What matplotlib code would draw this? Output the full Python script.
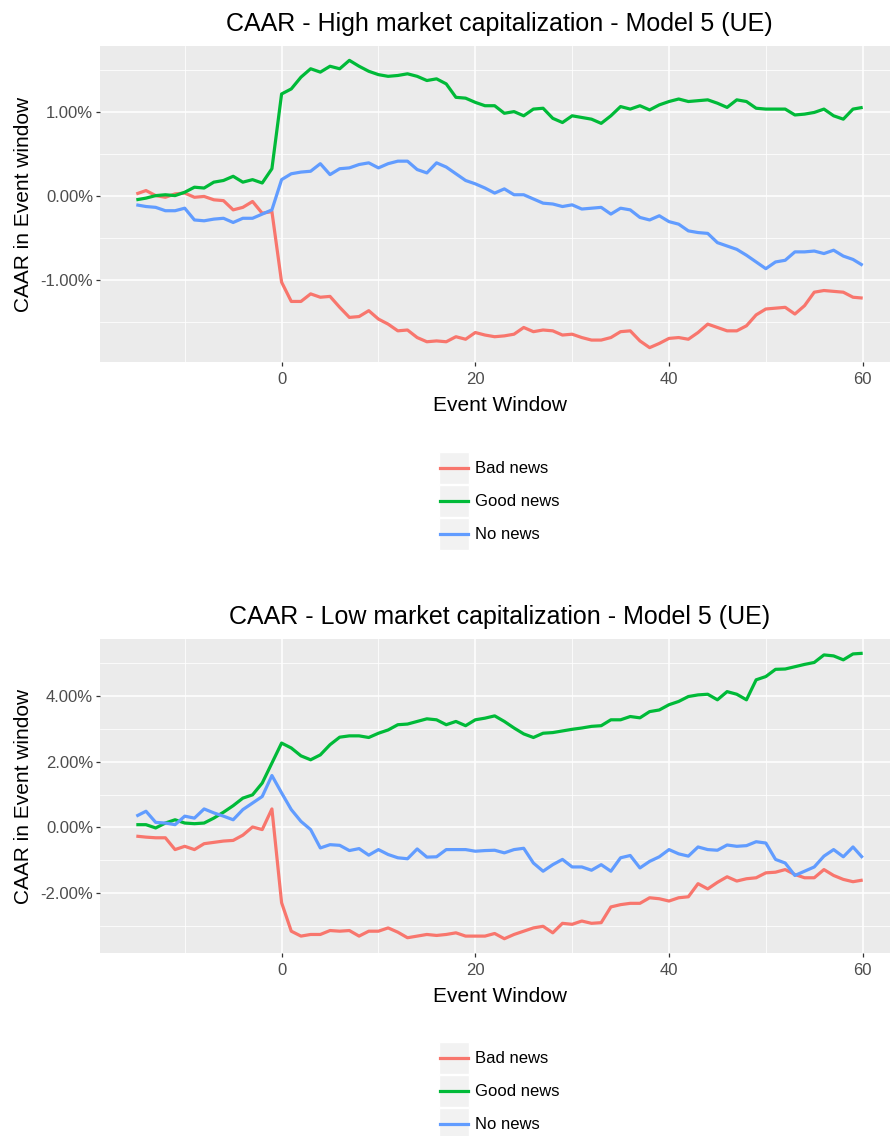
import matplotlib
matplotlib.use("Agg")
import matplotlib.pyplot as plt
from matplotlib.patches import Rectangle
from matplotlib.lines import Line2D
from matplotlib.legend_handler import HandlerBase
from matplotlib.ticker import MultipleLocator, FuncFormatter

plt.rcParams["font.family"] = ["Liberation Sans", "DejaVu Sans"]

# event window days
days = list(range(-15, 61))

series_names = ["Bad news", "Good news", "No news"]
colors = ["#F8766D", "#00BA38", "#619CFF"]

# high market capitalization (CAAR in %)
high_bad = [0.03, 0.07, 0.01, -0.01, 0.03, 0.04, -0.01, 0.00, -0.04, -0.05,
            -0.16, -0.13, -0.06, -0.20, -0.18, -1.02, -1.25, -1.25, -1.16, -1.20,
            -1.19, -1.32, -1.44, -1.43, -1.36, -1.46, -1.52, -1.60, -1.59, -1.68,
            -1.73, -1.72, -1.73, -1.67, -1.70, -1.62,
            -1.65, -1.67, -1.66, -1.64, -1.56, -1.61, -1.59, -1.60, -1.65, -1.64,
            -1.68, -1.71, -1.71, -1.68, -1.61, -1.60, -1.72, -1.80, -1.75, -1.69,
            -1.68, -1.70, -1.62, -1.52, -1.56, -1.60, -1.60, -1.54, -1.41, -1.34,
            -1.33, -1.32, -1.40, -1.30, -1.14, -1.12, -1.13, -1.14, -1.20, -1.21]
high_good = [-0.04, -0.02, 0.01, 0.02, 0.01, 0.05, 0.11, 0.10, 0.17, 0.19,
             0.24, 0.17, 0.20, 0.16, 0.33, 1.22, 1.28, 1.42, 1.52, 1.48,
             1.55, 1.52, 1.62, 1.55, 1.49, 1.45, 1.43, 1.44, 1.46, 1.43,
             1.38, 1.40, 1.34, 1.18, 1.17, 1.12,
             1.08, 1.08, 0.99, 1.01, 0.96, 1.04, 1.05, 0.93, 0.88, 0.96,
             0.94, 0.92, 0.87, 0.96, 1.07, 1.04, 1.08, 1.03, 1.09, 1.13,
             1.16, 1.13, 1.14, 1.15, 1.11, 1.06, 1.15, 1.13, 1.05, 1.04,
             1.04, 1.04, 0.97, 0.98, 1.00, 1.04, 0.96, 0.92, 1.04, 1.06]
high_none = [-0.10, -0.12, -0.13, -0.17, -0.17, -0.14, -0.28, -0.29, -0.27, -0.26,
             -0.31, -0.26, -0.26, -0.21, -0.16, 0.20, 0.27, 0.29, 0.30, 0.39,
             0.26, 0.33, 0.34, 0.38, 0.40, 0.34, 0.39, 0.42, 0.42, 0.32,
             0.28, 0.40, 0.35, 0.27, 0.19, 0.15,
             0.10, 0.04, 0.09, 0.02, 0.02, -0.03, -0.08, -0.09, -0.12, -0.10,
             -0.15, -0.14, -0.13, -0.21, -0.14, -0.16, -0.25, -0.28, -0.23, -0.30,
             -0.33, -0.41, -0.43, -0.44, -0.55, -0.59, -0.63, -0.70, -0.78, -0.86,
             -0.78, -0.76, -0.66, -0.66, -0.65, -0.68, -0.64, -0.71, -0.75, -0.82]

# low market capitalization (CAAR in %)
low_bad = [-0.27, -0.30, -0.32, -0.32, -0.68, -0.58, -0.68, -0.50, -0.46, -0.42,
           -0.40, -0.24, 0.01, -0.07, 0.56, -2.30, -3.17, -3.32, -3.27, -3.27,
           -3.15, -3.17, -3.15, -3.32, -3.17, -3.17, -3.07, -3.20, -3.37, -3.32,
           -3.27, -3.30, -3.27, -3.22, -3.32, -3.32,
           -3.32, -3.24, -3.40, -3.27, -3.17, -3.07, -3.02, -3.22, -2.93, -2.96,
           -2.86, -2.93, -2.91, -2.43, -2.36, -2.32, -2.32, -2.15, -2.18, -2.25,
           -2.15, -2.12, -1.72, -1.88, -1.68, -1.51, -1.64, -1.57, -1.54, -1.39,
           -1.37, -1.29, -1.44, -1.54, -1.54, -1.29, -1.47, -1.59, -1.66, -1.61]
low_good = [0.08, 0.08, -0.02, 0.13, 0.23, 0.13, 0.11, 0.13, 0.28, 0.46,
            0.66, 0.89, 0.99, 1.35, 1.96, 2.57, 2.42, 2.18, 2.06, 2.21,
            2.52, 2.75, 2.79, 2.79, 2.74, 2.87, 2.97, 3.13, 3.15, 3.23,
            3.31, 3.28, 3.13, 3.23, 3.10, 3.28,
            3.33, 3.40, 3.23, 3.03, 2.85, 2.74, 2.87, 2.89, 2.94, 2.99,
            3.03, 3.08, 3.10, 3.28, 3.28, 3.38, 3.34, 3.53, 3.58, 3.74,
            3.84, 3.99, 4.04, 4.06, 3.89, 4.14, 4.06, 3.89, 4.50, 4.60,
            4.82, 4.83, 4.90, 4.97, 5.03, 5.26, 5.23, 5.11, 5.29, 5.31]
low_none = [0.34, 0.49, 0.15, 0.13, 0.08, 0.34, 0.28, 0.56, 0.44, 0.34,
            0.23, 0.54, 0.74, 0.94, 1.58, 1.05, 0.54, 0.18, -0.07, -0.63,
            -0.53, -0.55, -0.71, -0.65, -0.85, -0.68, -0.83, -0.93, -0.96, -0.66,
            -0.91, -0.90, -0.68, -0.68, -0.68, -0.73,
            -0.71, -0.70, -0.78, -0.68, -0.64, -1.09, -1.34, -1.14, -0.98, -1.21,
            -1.21, -1.31, -1.14, -1.34, -0.93, -0.86, -1.24, -1.04, -0.90, -0.68,
            -0.81, -0.88, -0.60, -0.68, -0.70, -0.54, -0.58, -0.56, -0.44, -0.48,
            -0.98, -1.09, -1.47, -1.34, -1.21, -0.88, -0.68, -0.90, -0.60, -0.93]

W, H = 890, 1136
fig = plt.figure(figsize=(W / 100, H / 100), dpi=100)


class KeyHandler(HandlerBase):
    """ggplot-like legend key: grey box with a line through its middle."""

    def create_artists(self, legend, orig_handle, xdescent, ydescent,
                       width, height, fontsize, trans):
        box = Rectangle((-xdescent, -ydescent), width, height, facecolor="#F2F2F2",
                        edgecolor="white", lw=1, transform=trans)
        y = -ydescent + height / 2
        ln = Line2D([-xdescent + 1, -xdescent + width - 1], [y, y],
                    color=orig_handle.get_color(), lw=2.3, transform=trans)
        return [box, ln]


def draw_panel(rect, title, data, y_major, legend_top):
    left, top, right, bottom = rect
    ax = fig.add_axes([left / W, 1 - bottom / H, (right - left) / W, (bottom - top) / H])
    ax.set_facecolor("#EBEBEB")
    for s in ax.spines.values():
        s.set_visible(False)

    lines = []
    for vals, c, name in zip(data, colors, series_names):
        ln, = ax.plot(days, vals, color=c, lw=2.3, solid_capstyle="butt", zorder=3, label=name)
        lines.append(ln)

    # ggplot-style 5% expansion
    lo = min(min(v) for v in data)
    hi = max(max(v) for v in data)
    pad = 0.05 * (hi - lo)
    ax.set_ylim(lo - pad, hi + pad)
    xpad = 0.05 * (days[-1] - days[0])
    ax.set_xlim(days[0] - xpad, days[-1] + xpad)

    ax.xaxis.set_major_locator(MultipleLocator(20))
    ax.xaxis.set_minor_locator(MultipleLocator(10))
    ax.yaxis.set_major_locator(MultipleLocator(y_major))
    ax.yaxis.set_minor_locator(MultipleLocator(y_major / 2))
    ax.yaxis.set_major_formatter(FuncFormatter(lambda v, p: f"{v:.2f}%"))
    ax.grid(which="major", color="white", lw=1.1)
    ax.grid(which="minor", color="white", lw=0.55)
    ax.set_axisbelow(True)
    ax.tick_params(which="major", length=3, width=0.9, color="#333333",
                   labelcolor="#4D4D4D", labelsize=12, pad=2)
    ax.tick_params(axis="x", which="major", pad=4.5)
    ax.tick_params(which="minor", length=0)

    ax.set_title(title, fontsize=18, pad=11)
    ax.set_xlabel("Event Window", fontsize=15, labelpad=6.5)
    fig.text(24 / W, 1 - (top + bottom) / 2 / H, "CAAR in Event window",
             rotation=90, ha="center", va="center", fontsize=15)

    fig.legend(lines, series_names, handler_map={Line2D: KeyHandler()},
               loc="upper left", bbox_to_anchor=(439 / W, 1 - legend_top / H),
               frameon=False, fontsize=12, handlelength=1.8, handleheight=2.58,
               labelspacing=0.05, handletextpad=0.35, borderpad=0, borderaxespad=0)
    return ax


draw_panel((100, 46, 899, 362), "CAAR - High market capitalization - Model 5 (UE)",
           [high_bad, high_good, high_none], 1.0, 452)
draw_panel((100, 639, 899, 953), "CAAR - Low market capitalization - Model 5 (UE)",
           [low_bad, low_good, low_none], 2.0, 1042)

fig.savefig("out.png", dpi=100)
